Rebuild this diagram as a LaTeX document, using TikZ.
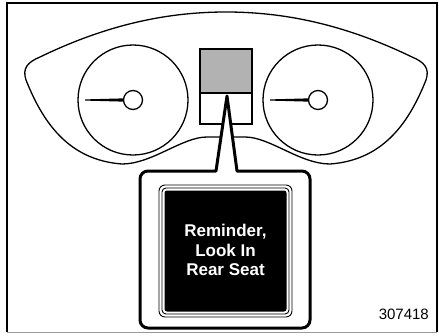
\documentclass[tikz,border=0pt]{standalone}
\usepackage{fontspec}
\setmainfont{Liberation Sans}
\begin{document}
\begin{tikzpicture}[x=1pt,y=-1pt,
  thinline/.style={line width=1.3pt},
  gauge/.style={circle,draw,thinline,minimum size=110pt,inner sep=0pt},
  hub/.style={circle,draw,thinline,fill=white,minimum size=19pt,inner sep=0pt},
  needle/.style={fill=black,draw=none},
  callout/.style={line width=3pt,fill=white,line join=round},
  scr/.style={line width=0.9pt}]
\useasboundingbox (0,0) rectangle (439,335);
% frame
\draw[line width=1.5pt] (7,332) -- (7,3) -- (437,3) -- (437,332);
\draw[line width=1pt,black!40] (7,332) -- (437,332);
% dashboard outline
\draw[thinline] (26,80) .. controls (22,68) and (28,62) .. (40,57)
  .. controls (100,28) and (160,12) .. (226,12)
  .. controls (292,12) and (352,28) .. (412,57)
  .. controls (424,62) and (430,68) .. (426,80)
  .. controls (410,120) and (385,160) .. (330,164)
  .. controls (300,164) and (270,137) .. (245,137)
  -- (207,137)
  .. controls (182,137) and (152,164) .. (122,164)
  .. controls (67,160) and (42,120) .. (26,80) -- cycle;
% gauges
\node[gauge] (lg) at (133,100) {};
\node[gauge] (rg) at (318,100) {};
\fill[needle] (85,99.4) -- (126,98.3) -- (126,101.7) -- (85,100.6) -- cycle;
\fill[needle] (270,99.4) -- (311,98.3) -- (311,101.7) -- (270,100.6) -- cycle;
\node[hub] (lh) at (133,100) {};
\node[hub] (rh) at (318,100) {};
% display
\node[draw,thinline,fill=black!30,minimum width=52pt,minimum height=44pt,inner sep=0pt] (disp) at (226,71) {};
\node[draw,thinline,fill=white,minimum width=52pt,minimum height=31pt,inner sep=0pt] (low) at (226,108.5) {};
% callout
\coordinate (apex) at (227,96);
\coordinate (bl) at (216,171);
\coordinate (br) at (237,171);
\draw[callout] (apex) -- (bl) {[rounded corners=8pt] -- (140,171) -- (140,328) -- (310,328) -- (310,171)} -- (br) -- cycle;
% screen
\draw[scr,rounded corners=6pt] (159,185) rectangle (292,317);
\draw[scr,rounded corners=4pt] (162,188) rectangle (289,314);
\fill[black,rounded corners=2.5pt] (164.5,190.5) rectangle (286.5,311.5);
\node[text=white,align=center,inner sep=0pt,font=\fontsize{17}{19.7}\selectfont\bfseries] (msg) at (225.5,250) {Reminder,\\Look In\\Rear Seat};
\node[anchor=base east,inner sep=0pt,font=\fontsize{15}{18}\selectfont] (num) at (429,319) {307418};
\end{tikzpicture}
\end{document}
